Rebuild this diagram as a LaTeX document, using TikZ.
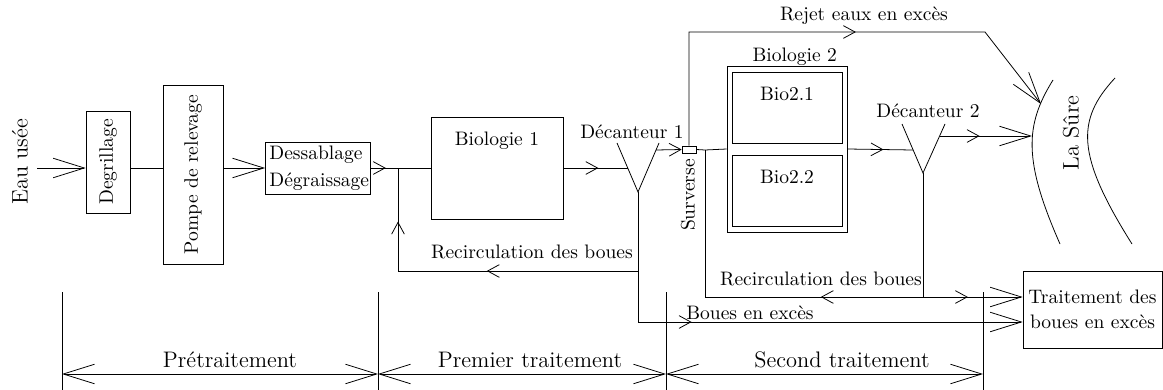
\documentclass[tikz,border=0pt]{standalone}
\usepackage{tikz}
\usetikzlibrary{positioning,arrows.meta,decorations.markings}
\tikzset{
petite/.tip={Straight Barb[length=6pt,width=6.5pt]},
grande/.tip={Straight Barb[length=16pt,width=10pt]}
}

\begin{document}
\begin{tikzpicture}[
x=0.018cm,y=-0.018cm,
box/.style={rectangle,draw,inner sep=1pt},
gros/.style={font=\fontsize{11.5}{14}\selectfont},
fleche/.style={postaction={decorate},decoration={markings,mark=at position #1 with {\arrow{petite}}}},
lbl/.style={anchor=base},
titre/.style={label={[anchor=north,yshift=-1.5mm]north:#1}}
]
\useasboundingbox (0,0) rectangle (1163,390);
\node[gros,rotate=90] (eau) at (20,162) {Eau usée};
\coordinate (in) at (37,168);
\node[box,minimum width=0.79cm,minimum height=1.84cm] (degr) at (108,162) {\rotatebox{90}{Degrillage}};
\node[box,minimum width=1.08cm,minimum height=3.22cm] (pompe) at (193,174.5) {\rotatebox{90}{Pompe de relevage}};
\node[box,text width=1.75cm,inner xsep=2pt,align=left,minimum height=0.94cm,font=\fontsize{10}{14}\selectfont] (dess) at (318,168) {Dessablage\\Dégraissage};
\coordinate (j1) at (398,168);
\node[box,minimum width=2.38cm,minimum height=1.84cm,titre=Biologie 1] (bio1) at (497,168) {};
\coordinate (d1g) at (617,143);
\coordinate (d1) at (638,192);
\coordinate (d1d) at (659,143);
\coordinate (e1) at (628,168);
\coordinate (s1) at (656,150);
\node[lbl] (dec1) at (632,138) {Décanteur 1};
\node[box,minimum width=0.25cm,minimum height=0.13cm,inner sep=0pt] (surv) at (689,149.5) {};
\node[rotate=90] (survtxt) at (688,195) {Surverse};
\coordinate (j2) at (705,150);
\node[box,minimum width=2.16cm,minimum height=2.99cm,label={[xshift=1.4mm,yshift=-1.3mm]above:Biologie 2}] (bio2) at (787,149) {};
\node[box,minimum width=1.98cm,minimum height=1.28cm,titre=Bio2.1] (bio21) at (787,107.5) {};
\node[box,minimum width=1.98cm,minimum height=1.28cm,titre=Bio2.2] (bio22) at (787,190.5) {};
\coordinate (d2g) at (902,124);
\coordinate (d2) at (923,173);
\coordinate (d2d) at (945,124);
\coordinate (e2) at (913,150);
\coordinate (s2) at (940,136);
\node[lbl] (dec2) at (928,117) {Décanteur 2};
\draw (1053,80) .. controls (1025,125) and (1023,160) .. (1060,244);
\draw (1115,78) .. controls (1076,120) and (1076,155) .. (1132,244);
\node[gros,rotate=90] (sure) at (1071,133) {La Sûre};
\coordinate (sure1) at (1041,104);
\coordinate (sure2) at (1032,136);
\node[box,minimum width=2.5cm,minimum height=1.39cm,align=center,font=\fontsize{10}{13}\selectfont] (trait) at (1092.5,309.5) {Traitement des\\boues en excès};

\draw[-{grande}] (in) -- (in -| degr.west);
\draw (in -| degr.east) -- (in -| pompe.west);
\draw[-{grande}] (in -| pompe.east) -- (dess.west);
\draw[fleche=0.55] (dess.east) -- (j1);
\draw (j1) -- (bio1.west);
\draw[fleche=0.54] (bio1.east) -- (e1);
\draw (d1g) -- (d1) -- (d1d);
\draw[-{petite}] (s1) -- (surv.west);
\coordinate (r1) at (638,271);
\coordinate (c1) at (398,271);
\coordinate (b1) at (638,322);
\draw (d1) -- (r1);
\draw[fleche=0.63] (r1) -- (c1);
\draw[fleche=0.48] (c1) -- (j1);
\node[lbl] (rec1) at (532,258) {Recirculation des boues};
\draw[fleche=0.24,-{grande}] (r1) -- (b1) -- (trait.west |- b1);
\node[lbl] (boues) at (750,319) {Boues en excès};
\coordinate (rj1) at (689,32);
\coordinate (rj2) at (985,32);
\draw[fleche=0.56,-{grande}] (surv.north) -- (rj1) -- (rj2) -- (sure1);
\node[lbl] (rejet) at (864,21) {Rejet eaux en excès};
\draw (surv.east) -- (j2) -- (bio2.west);
\draw[fleche=0.55] (bio2.east) -- (e2);
\draw (d2g) -- (d2) -- (d2d);
\coordinate (r2) at (923,297);
\coordinate (c2) at (705,297);
\draw (d2) -- (r2);
\draw[fleche=0.28] (r2) -- (c2) -- (j2);
\draw[fleche=0.45,-{grande}] (r2) -- (trait.west |- r2);
\node[lbl] (rec2) at (821,285) {Recirculation des boues};
\draw[fleche=0.43,-{grande}] (s2) -- (sure2);

\foreach \x/\n in {62/p1,378/p2,666/p3,983/p4} {
\draw (\x,292) -- (\x,390);
\coordinate (\n) at (\x,374);
}
\draw[{grande}-{grande}] (p1) -- (p2);
\draw[{grande}-{grande}] (p2) -- (p3);
\draw[{grande}-{grande}] (p3) -- (p4);
\node[gros,lbl] (pret) at (230,367) {Prétraitement};
\node[gros,lbl] (prem) at (530,367) {Premier traitement};
\node[gros,lbl] (sec) at (842,367) {Second traitement};
\end{tikzpicture}
\end{document}
